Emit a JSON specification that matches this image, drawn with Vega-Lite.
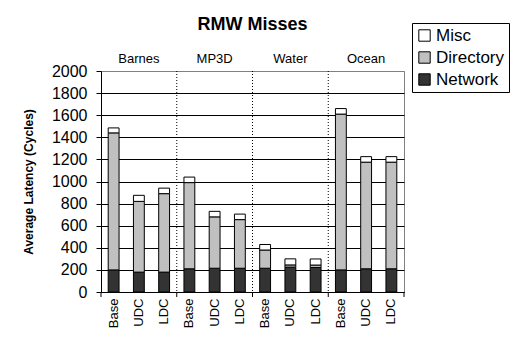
{
  "$schema": "https://vega.github.io/schema/vega-lite/v6.json",
  "width": 303,
  "height": 221,
  "autosize": "none",
  "padding": {"left": 101, "top": 71, "right": 109, "bottom": 47},
  "background": "white",
  "config": {
    "font": "Liberation Sans",
    "axis": {"labelFont": "Liberation Sans", "titleFont": "Liberation Sans"},
    "legend": {"labelFont": "Liberation Sans"},
    "view": {"stroke": "#808080", "strokeWidth": 1}
  },
  "title": {"text": "RMW Misses", "fontSize": 18, "fontWeight": "bold", "font": "Liberation Sans", "anchor": "middle", "offset": -11, "color": "black"},
  "data": {"values": [
    {"bar": "Barnes|Base", "group": "Barnes", "config": "Base", "component": "Network", "value": 200},
    {"bar": "Barnes|Base", "group": "Barnes", "config": "Base", "component": "Directory", "value": 1240},
    {"bar": "Barnes|Base", "group": "Barnes", "config": "Base", "component": "Misc", "value": 45},
    {"bar": "Barnes|UDC", "group": "Barnes", "config": "UDC", "component": "Network", "value": 180},
    {"bar": "Barnes|UDC", "group": "Barnes", "config": "UDC", "component": "Directory", "value": 640},
    {"bar": "Barnes|UDC", "group": "Barnes", "config": "UDC", "component": "Misc", "value": 55},
    {"bar": "Barnes|LDC", "group": "Barnes", "config": "LDC", "component": "Network", "value": 180},
    {"bar": "Barnes|LDC", "group": "Barnes", "config": "LDC", "component": "Directory", "value": 710},
    {"bar": "Barnes|LDC", "group": "Barnes", "config": "LDC", "component": "Misc", "value": 50},
    {"bar": "MP3D|Base", "group": "MP3D", "config": "Base", "component": "Network", "value": 210},
    {"bar": "MP3D|Base", "group": "MP3D", "config": "Base", "component": "Directory", "value": 780},
    {"bar": "MP3D|Base", "group": "MP3D", "config": "Base", "component": "Misc", "value": 50},
    {"bar": "MP3D|UDC", "group": "MP3D", "config": "UDC", "component": "Network", "value": 215},
    {"bar": "MP3D|UDC", "group": "MP3D", "config": "UDC", "component": "Directory", "value": 465},
    {"bar": "MP3D|UDC", "group": "MP3D", "config": "UDC", "component": "Misc", "value": 50},
    {"bar": "MP3D|LDC", "group": "MP3D", "config": "LDC", "component": "Network", "value": 215},
    {"bar": "MP3D|LDC", "group": "MP3D", "config": "LDC", "component": "Directory", "value": 440},
    {"bar": "MP3D|LDC", "group": "MP3D", "config": "LDC", "component": "Misc", "value": 50},
    {"bar": "Water|Base", "group": "Water", "config": "Base", "component": "Network", "value": 215},
    {"bar": "Water|Base", "group": "Water", "config": "Base", "component": "Directory", "value": 165},
    {"bar": "Water|Base", "group": "Water", "config": "Base", "component": "Misc", "value": 50},
    {"bar": "Water|UDC", "group": "Water", "config": "UDC", "component": "Network", "value": 225},
    {"bar": "Water|UDC", "group": "Water", "config": "UDC", "component": "Directory", "value": 20},
    {"bar": "Water|UDC", "group": "Water", "config": "UDC", "component": "Misc", "value": 55},
    {"bar": "Water|LDC", "group": "Water", "config": "LDC", "component": "Network", "value": 222},
    {"bar": "Water|LDC", "group": "Water", "config": "LDC", "component": "Directory", "value": 22},
    {"bar": "Water|LDC", "group": "Water", "config": "LDC", "component": "Misc", "value": 55},
    {"bar": "Ocean|Base", "group": "Ocean", "config": "Base", "component": "Network", "value": 200},
    {"bar": "Ocean|Base", "group": "Ocean", "config": "Base", "component": "Directory", "value": 1410},
    {"bar": "Ocean|Base", "group": "Ocean", "config": "Base", "component": "Misc", "value": 50},
    {"bar": "Ocean|UDC", "group": "Ocean", "config": "UDC", "component": "Network", "value": 210},
    {"bar": "Ocean|UDC", "group": "Ocean", "config": "UDC", "component": "Directory", "value": 965},
    {"bar": "Ocean|UDC", "group": "Ocean", "config": "UDC", "component": "Misc", "value": 50},
    {"bar": "Ocean|LDC", "group": "Ocean", "config": "LDC", "component": "Network", "value": 210},
    {"bar": "Ocean|LDC", "group": "Ocean", "config": "LDC", "component": "Directory", "value": 965},
    {"bar": "Ocean|LDC", "group": "Ocean", "config": "LDC", "component": "Misc", "value": 50}
  ]},
  "layer": [
    {
      "transform": [{"calculate": "indexof(['Network', 'Directory', 'Misc'], datum.component)", "as": "stackKey"}],
      "mark": {"type": "bar", "width": {"band": 0.43}, "stroke": "black", "strokeWidth": 1},
      "encoding": {
        "x": {"field": "bar", "type": "nominal", "sort": null,
          "scale": {"paddingInner": 0, "paddingOuter": 0},
          "axis": {"title": null, "labelExpr": "split(datum.value, '|')[1]", "labelAngle": -90, "labelFontSize": 13, "labelColor": "black", "labelPadding": 6, "ticks": false, "domainColor": "black"}},
        "y": {"field": "value", "type": "quantitative", "stack": "zero",
          "scale": {"domain": [0, 2000], "nice": false},
          "axis": {"title": "Average Latency (Cycles)", "titleFontSize": 12, "titleFontWeight": "bold", "titleColor": "black", "titlePadding": 16,
            "values": [0, 200, 400, 600, 800, 1000, 1200, 1400, 1600, 1800, 2000], "tickCount": 11, "format": "d", "labelOverlap": false, "labelFlush": false,
            "labelFontSize": 16, "labelColor": "black", "labelPadding": 9, "tickSize": 5, "tickColor": "black", "domainColor": "black",
            "grid": true, "gridColor": {"condition": {"test": "datum.value == 2000", "value": "#808080"}, "value": "black"}, "gridOpacity": 1}},
        "order": {"field": "stackKey", "type": "quantitative", "sort": "ascending"},
        "color": {"field": "component", "type": "nominal",
          "scale": {"domain": ["Misc", "Directory", "Network"], "range": ["#ffffff", "#c0c0c0", "#333333"]},
          "legend": {"orient": "none", "legendX": 311, "legendY": -48, "title": null, "labelFontSize": 17, "labelColor": "black",
            "symbolType": "square", "symbolSize": 130, "symbolStrokeColor": "black", "symbolStrokeWidth": 1, "symbolOpacity": 1,
            "strokeColor": "black", "padding": 4, "rowPadding": 4, "labelOffset": 3, "fillColor": "white"}}
      }
    },
    {
      "transform": [{"filter": "datum.config == 'Base' && datum.component == 'Network' && datum.group != 'Barnes'"}],
      "mark": {"type": "rule", "color": "black", "strokeDash": [1, 2], "strokeWidth": 1},
      "encoding": {
        "x": {"field": "bar", "type": "nominal", "sort": null, "bandPosition": 0},
        "y": {"datum": 2000, "type": "quantitative"},
        "y2": {"datum": 0}
      }
    },
    {
      "transform": [{"filter": "datum.config == 'Base' && datum.component == 'Network'"}],
      "mark": {"type": "rule", "color": "black", "strokeWidth": 1, "y2Offset": 5},
      "encoding": {
        "x": {"field": "bar", "type": "nominal", "sort": null, "bandPosition": 0},
        "y": {"datum": 0, "type": "quantitative"},
        "y2": {"datum": 0}
      }
    },
    {
      "transform": [{"filter": "datum.bar == 'Ocean|LDC' && datum.component == 'Network'"}],
      "mark": {"type": "rule", "color": "black", "strokeWidth": 1, "y2Offset": 5},
      "encoding": {
        "x": {"field": "bar", "type": "nominal", "sort": null, "bandPosition": 1},
        "y": {"datum": 0, "type": "quantitative"},
        "y2": {"datum": 0}
      }
    },
    {
      "transform": [{"filter": "datum.config == 'UDC' && datum.component == 'Network'"}],
      "mark": {"type": "text", "fontSize": 13, "dy": -12, "baseline": "middle", "color": "black"},
      "encoding": {
        "x": {"field": "bar", "type": "nominal", "sort": null},
        "y": {"datum": 2000, "type": "quantitative"},
        "text": {"field": "group"}
      }
    }
  ]
}
